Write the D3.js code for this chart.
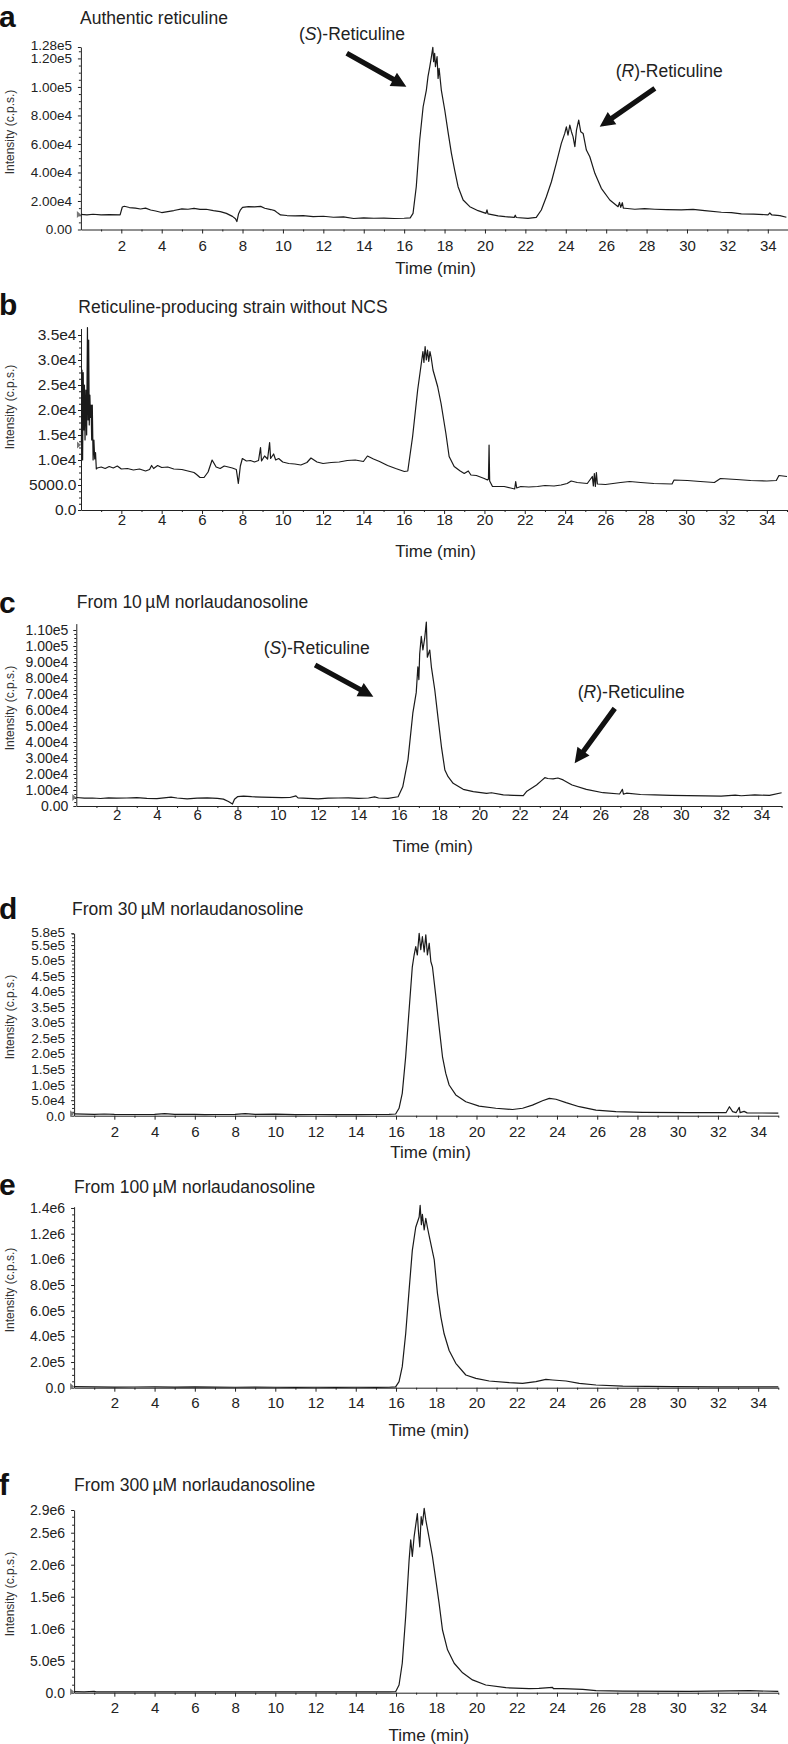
<!DOCTYPE html>
<html>
<head>
<meta charset="utf-8">
<script src="https://cdnjs.cloudflare.com/ajax/libs/d3/7.8.5/d3.min.js"></script>
<style>
  body { margin: 0; background: #fff; }
  svg { display: block; font-family: "Liberation Sans", Arial, Helvetica, sans-serif; }
</style>
</head>
<body>
<svg width="788" height="1744"></svg>
<script>
// ---- data: [time (min), intensity (c.p.s.)] ----
const traceA = [[0.0,10600],[0.3,10300],[0.6,10700],[1.0,10200],[1.4,10500],[1.94,10200],[2.05,15800],[2.15,16300],[2.4,15400],[2.7,15000],[2.95,14400],[3.2,15000],[3.45,13700],[3.7,13000],[4.0,11900],[4.3,12600],[4.6,13300],[5.0,14500],[5.3,14200],[5.6,14800],[5.9,14100],[6.2,14200],[6.56,13200],[6.9,12500],[7.2,11300],[7.5,9200],[7.65,7600],[7.72,5600],[7.8,10800],[7.9,13800],[8.0,15500],[8.3,16100],[8.6,15900],[8.9,16200],[9.1,14900],[9.4,14000],[9.6,13200],[9.75,11500],[9.88,10200],[10.2,9800],[10.6,9500],[11.0,9700],[11.5,9000],[12.0,9300],[12.5,8600],[13.0,8900],[13.5,7700],[14.0,8200],[14.5,7900],[15.0,8000],[15.5,7700],[16.0,7900],[16.3,8200],[16.44,11300],[16.6,30000],[16.77,62800],[16.94,86100],[17.1,97800],[17.18,107200],[17.27,114200],[17.35,121200],[17.42,127800],[17.46,117700],[17.51,123600],[17.55,114200],[17.63,121200],[17.68,106000],[17.73,113000],[17.84,97800],[18.01,83800],[18.17,68600],[18.34,53400],[18.5,41700],[18.67,30000],[18.92,20700],[19.25,16000],[19.66,13200],[20.05,11300],[20.1,13800],[20.15,11000],[20.65,9500],[21.0,9000],[21.45,8500],[21.5,10000],[21.55,8400],[22.13,7800],[22.54,8500],[22.79,13700],[23.04,23000],[23.29,33500],[23.53,46400],[23.78,60400],[23.95,67400],[24.03,72000],[24.11,66200],[24.2,73200],[24.28,68600],[24.36,65100],[24.45,58100],[24.53,69700],[24.64,76700],[24.74,68600],[24.86,67400],[25.02,55700],[25.19,51000],[25.44,39400],[25.76,28900],[26.18,20700],[26.59,16000],[26.66,19000],[26.72,15500],[26.8,18800],[26.85,15000],[26.92,14900],[27.42,14200],[27.9,14600],[28.41,14200],[29.0,13900],[29.72,13700],[30.3,14100],[30.88,13200],[31.7,12100],[32.2,11800],[32.69,11000],[33.3,10800],[34.01,10300],[34.1,11600],[34.2,10200],[34.6,9700],[34.92,8600]];

const traceB = [[0.02,13000],[0.05,28000],[0.08,10000],[0.11,27500],[0.14,16000],[0.17,25000],[0.2,14000],[0.24,24000],[0.28,15000],[0.32,36500],[0.35,18000],[0.38,34000],[0.41,17000],[0.44,23000],[0.47,18500],[0.5,21000],[0.53,14000],[0.56,21000],[0.6,10000],[0.64,14000],[0.68,10200],[0.72,11500],[0.76,8200],[0.8,8400],[1.0,8600],[1.2,8300],[1.4,8700],[1.6,8400],[1.8,8800],[2.0,8200],[2.3,8300],[2.6,8000],[2.9,8200],[3.2,7800],[3.4,8100],[3.5,8900],[3.6,8300],[3.8,8900],[4.0,8500],[4.3,8600],[4.6,8200],[5.0,8100],[5.3,7800],[5.6,7500],[5.7,7200],[5.9,6500],[6.1,6500],[6.3,7600],[6.5,10000],[6.7,8600],[6.9,8300],[7.1,8800],[7.3,8600],[7.5,8400],[7.7,8100],[7.8,5300],[7.9,8800],[8.0,10300],[8.2,9800],[8.4,9900],[8.6,9600],[8.8,9900],[8.9,12500],[8.95,9800],[9.1,10800],[9.25,10200],[9.35,13500],[9.4,10300],[9.55,11200],[9.65,10000],[9.8,10300],[10.0,9600],[10.3,9300],[10.6,9200],[10.9,9000],[11.2,9500],[11.4,10400],[11.7,9600],[12.0,9300],[12.4,9500],[12.8,9600],[13.2,9900],[13.6,10000],[14.0,9700],[14.2,10800],[14.5,10200],[14.8,9700],[15.0,9300],[15.2,8900],[15.6,8300],[16.03,7700],[16.2,7800],[16.44,14700],[16.69,24000],[16.85,28700],[16.95,31700],[17.0,29500],[17.06,32700],[17.12,30000],[17.18,32000],[17.24,29700],[17.3,31700],[17.36,30500],[17.45,28000],[17.68,24700],[17.85,21300],[18.09,15300],[18.25,10700],[18.5,8700],[18.8,7800],[19.0,7300],[19.2,7800],[19.33,7000],[19.6,6900],[19.99,6300],[20.15,6000],[20.2,6200],[20.23,13000],[20.26,5800],[20.4,4700],[20.98,4700],[21.3,4400],[21.5,4200],[21.55,5700],[21.6,4400],[21.8,4700],[22.2,4600],[22.63,4700],[23.0,4900],[23.45,4800],[23.8,5000],[24.1,5300],[24.3,5800],[24.6,5500],[25.1,5300],[25.35,6700],[25.4,4800],[25.45,7300],[25.5,4700],[25.55,7500],[25.6,5200],[26.0,5100],[26.75,5500],[27.2,5700],[27.75,5500],[28.4,5300],[29.3,5200],[29.4,6000],[30.06,5900],[30.7,5700],[31.4,5500],[31.7,6300],[32.5,6100],[33.2,5900],[34.0,5800],[34.47,5900],[34.6,6900],[35.0,6700]];

const traceC = [[0.0,5300],[0.4,4900],[0.8,5000],[1.2,4700],[1.6,5100],[2.0,4900],[2.5,5000],[3.0,5200],[3.5,4800],[4.0,4600],[4.7,5600],[5.0,5000],[5.5,4500],[6.0,4900],[6.5,5100],[7.0,4800],[7.3,4300],[7.55,2800],[7.75,1200],[7.85,4200],[8.0,5800],[8.3,6200],[8.7,5800],[9.2,5600],[9.7,5400],[10.2,5200],[10.6,5300],[10.9,6300],[11.0,5100],[11.5,4800],[12.0,4500],[12.5,4900],[13.0,5000],[13.5,5100],[14.0,4800],[14.5,5000],[14.8,5700],[15.0,5000],[15.47,4800],[15.97,5800],[16.2,12000],[16.46,29000],[16.7,58000],[16.87,71000],[16.95,87000],[17.0,79000],[17.04,95000],[17.12,106000],[17.2,97500],[17.29,105000],[17.37,115000],[17.42,93000],[17.54,97500],[17.62,87000],[17.79,72500],[17.96,54000],[18.12,37000],[18.29,22500],[18.45,18300],[18.7,14200],[19.2,10400],[19.7,9000],[20.36,7900],[20.6,8300],[21.19,6900],[21.7,6700],[22.18,6500],[22.34,9000],[22.84,13100],[23.1,16000],[23.25,17700],[23.4,17200],[23.66,16900],[23.9,17500],[24.16,16300],[24.6,13100],[25.31,10400],[26.14,8300],[26.96,7500],[27.1,10400],[27.15,7400],[27.3,8000],[28.0,7200],[28.7,6900],[29.5,6700],[30.35,6500],[31.2,6300],[32.0,6200],[32.7,6800],[33.0,6400],[33.67,6900],[34.4,6600],[35.0,8300]];

const traceD = [[0.0,6000],[0.5,5000],[1.0,4000],[1.5,5500],[2.0,4000],[3.0,3800],[4.0,4200],[4.5,6500],[5.0,4000],[6.0,4500],[6.5,3500],[7.0,3800],[8.0,4300],[8.5,6800],[9.0,4000],[10.0,4800],[11.0,3600],[12.0,3800],[13.0,3500],[14.0,3300],[15.0,3800],[15.65,4000],[15.98,5500],[16.15,24000],[16.31,72000],[16.48,190000],[16.65,341000],[16.81,480000],[16.9,518000],[16.98,545000],[17.06,518000],[17.15,588000],[17.23,535000],[17.31,577000],[17.4,528000],[17.48,583000],[17.56,518000],[17.65,556000],[17.73,497000],[17.81,480000],[17.98,384000],[18.14,287000],[18.31,190000],[18.47,137000],[18.64,99000],[18.97,67000],[19.47,45000],[20.13,31000],[20.96,24000],[21.79,20000],[22.29,24000],[22.78,34000],[23.28,48000],[23.62,56000],[23.95,53000],[24.45,42000],[25.11,29000],[25.94,18000],[26.93,13000],[28.26,11000],[30.58,9700],[32.4,9700],[32.57,29000],[32.73,13000],[32.9,9700],[33.06,27000],[33.1,9700],[33.3,14000],[33.45,9000],[35.0,8500]];

const traceE = [[0.0,9000],[1.0,6000],[2.0,4500],[3.0,5500],[4.0,7000],[5.0,4500],[6.0,6000],[7.0,4000],[8.0,3500],[9.0,5000],[10.0,3500],[11.0,3000],[12.0,3500],[13.0,3000],[14.0,3500],[15.0,3000],[15.65,3500],[15.98,6000],[16.15,47000],[16.31,164000],[16.48,420000],[16.65,760000],[16.81,1070000],[16.98,1250000],[17.15,1330000],[17.2,1420000],[17.26,1270000],[17.31,1350000],[17.4,1230000],[17.48,1320000],[17.56,1250000],[17.65,1180000],[17.9,995000],[18.06,735000],[18.23,550000],[18.39,420000],[18.64,290000],[18.97,190000],[19.47,99000],[19.97,73000],[20.63,52000],[21.63,39000],[22.29,34000],[22.95,47000],[23.45,65000],[23.78,60000],[24.45,52000],[25.11,34000],[25.94,21000],[27.27,13000],[29.75,7800],[32.0,6500],[35.0,6000]];

const traceF = [[0.0,16000],[0.5,14000],[1.0,20000],[1.1,14000],[2.0,13000],[4.0,14000],[6.0,13000],[8.0,14000],[10.0,13000],[12.0,14000],[14.0,13000],[15.65,14000],[15.98,16000],[16.15,120000],[16.31,460000],[16.48,1190000],[16.65,2070000],[16.73,2390000],[16.81,2130000],[16.9,2440000],[17.06,2800000],[17.11,2540000],[17.18,2280000],[17.25,2750000],[17.31,2620000],[17.4,2880000],[17.48,2700000],[17.65,2410000],[17.81,2130000],[17.98,1760000],[18.14,1400000],[18.31,980000],[18.56,670000],[18.89,460000],[19.31,310000],[19.8,200000],[20.46,120000],[21.46,78000],[22.62,63000],[23.1,68000],[23.78,83000],[23.82,63000],[24.28,63000],[25.28,52000],[25.94,31000],[27.27,26000],[30.58,21000],[33.57,31000],[35.0,21000]];

// ---- axis ticks ----
const xTicks = [2,4,6,8,10,12,14,16,18,20,22,24,26,28,30,32,34];
const xMinorTicks = [1,3,5,7,9,11,13,15,17,19,21,23,25,27,29,31,33,35];

const yTicksA = [0,2e4,4e4,6e4,8e4,1e5,1.2e5,1.28e5];
const yLabelsA = ["0.00","2.00e4","4.00e4","6.00e4","8.00e4","1.00e5","1.20e5","1.28e5"];
const yTicksB = [0,5000,1e4,1.5e4,2e4,2.5e4,3e4,3.5e4];
const yLabelsB = ["0.0","5000.0","1.0e4","1.5e4","2.0e4","2.5e4","3.0e4","3.5e4"];
const yTicksC = [0,1e4,2e4,3e4,4e4,5e4,6e4,7e4,8e4,9e4,1e5,1.1e5];
const yLabelsC = ["0.00","1.00e4","2.00e4","3.00e4","4.00e4","5.00e4","6.00e4","7.00e4","8.00e4","9.00e4","1.00e5","1.10e5"];
const yTicksD = [0,5e4,1e5,1.5e5,2e5,2.5e5,3e5,3.5e5,4e5,4.5e5,5e5,5.5e5,5.88e5];
const yLabelsD = ["0.0","5.0e4","1.0e5","1.5e5","2.0e5","2.5e5","3.0e5","3.5e5","4.0e5","4.5e5","5.0e5","5.5e5","5.8e5"];
const yTicksE = [0,2e5,4e5,6e5,8e5,1e6,1.2e6,1.4e6];
const yLabelsE = ["0.0","2.0e5","4.0e5","6.0e5","8.0e5","1.0e6","1.2e6","1.4e6"];
const yTicksF = [0,5e5,1e6,1.5e6,2e6,2.5e6,2.855e6];
const yLabelsF = ["0.0","5.0e5","1.0e6","1.5e6","2.0e6","2.5e6","2.9e6"];

// ---- annotations (data coordinates) ----
const arrowsA = [[[13.16,123600],[16.11,100150]], [[28.41,99030],[25.68,72100]]];
const notesA = [["S",13.42,133000], ["R",29.12,106900]];
const arrowsC = [[[11.85,88100],[14.74,68300]], [[26.72,61000],[24.73,26700]]];
const notesC = [["S",11.93,95000], ["R",27.54,67200]];

const titles = ["Authentic reticuline",
  "Reticuline-producing strain without NCS",
  "From 10\u2009\u00b5M norlaudanosoline",
  "From 30\u2009\u00b5M norlaudanosoline",
  "From 100\u2009\u00b5M norlaudanosoline",
  "From 300\u2009\u00b5M norlaudanosoline"];

// ---- panel placement (pixels) ----
const panels = [
  {letter:"a", trace:traceA, yt:yTicksA, yl:yLabelsA, ymax:1.28e5, x0:80.9, x1:788, y0:229.5, y1:47,
   letterY:27, titleX:80, titleY:24, tickDy:21, timeX:435.5, timeY:274, yLabY:132, yTickRight:72, yFont:13.5, topShift:2,
   arrows:arrowsA, notes:notesA},
  {letter:"b", trace:traceB, yt:yTicksB, yl:yLabelsB, ymax:3.63e4, x0:81, x1:787, y0:510, y1:328.5,
   letterY:315, titleX:78.3, titleY:312.7, tickDy:14.5, timeX:435.5, timeY:557, yLabY:407, yTickRight:76.5, yFont:15.5, topShift:0},
  {letter:"c", trace:traceC, yt:yTicksC, yl:yLabelsC, ymax:1.14e5, x0:76.3, x1:781.6, y0:806, y1:623.6,
   letterY:613, titleX:76.7, titleY:608.3, tickDy:13.5, timeX:432.7, timeY:852, yLabY:708, yTickRight:68.3, yFont:14, topShift:0,
   arrows:arrowsC, notes:notesC},
  {letter:"d", trace:traceD, yt:yTicksD, yl:yLabelsD, ymax:5.88e5, x0:74.1, x1:778.3, y0:1115.7, y1:933.3,
   letterY:919, titleX:72, titleY:915, tickDy:21, timeX:430.5, timeY:1158, yLabY:1017, yTickRight:65, yFont:13.5, topShift:1.5},
  {letter:"e", trace:traceE, yt:yTicksE, yl:yLabelsE, ymax:1.41e6, x0:74.1, x1:778.3, y0:1387.7, y1:1206.7,
   letterY:1195, titleX:74, titleY:1193.3, tickDy:20.6, timeX:428.8, timeY:1435.5, yLabY:1290, yTickRight:65, yFont:14, topShift:0},
  {letter:"f", trace:traceF, yt:yTicksF, yl:yLabelsF, ymax:2.855e6, x0:74.1, x1:778.3, y0:1692.7, y1:1510,
   letterY:1495, titleX:74, titleY:1490.7, tickDy:20.6, timeX:428.8, timeY:1740.5, yLabY:1594, yTickRight:65, yFont:14, topShift:0}
];

const svg = d3.select("svg");
const ink = "#1a1a1a";

panels.forEach(function(p, i) {
  const x = d3.scaleLinear().domain([0, 35]).range([p.x0, p.x1]);
  const y = d3.scaleLinear().domain([0, p.ymax]).range([p.y0, p.y1]);
  const g = svg.append("g");

  // panel letter + title
  g.append("text").attr("x", -1).attr("y", p.letterY)
    .style("font-size", "30px").style("font-weight", "bold").attr("fill", "#111").text(p.letter);
  g.append("text").attr("x", p.titleX).attr("y", p.titleY)
    .style("font-size", "17.5px").attr("fill", "#222").text(titles[i]);

  // x axis
  const xAxis = g.append("g").attr("transform", "translate(0," + p.y0 + ")")
    .call(d3.axisBottom(x).tickValues(xTicks).tickSize(4).tickSizeOuter(0));
  xAxis.selectAll("text").attr("y", p.tickDy).attr("dy", 0)
    .style("font-size", "15px").attr("fill", "#222");
  g.append("g").attr("transform", "translate(0," + p.y0 + ")")
    .call(d3.axisBottom(x).tickValues(xMinorTicks).tickSize(2).tickFormat(""))
    .select(".domain").remove();

  // y axis
  const yAxis = g.append("g").attr("transform", "translate(" + p.x0 + ",0)")
    .call(d3.axisLeft(y).tickValues(p.yt).tickSize(3).tickSizeOuter(0)
      .tickPadding(p.x0 - p.yTickRight - 3)
      .tickFormat(function(d, k) { return p.yl[k]; }));
  yAxis.selectAll("text").style("font-size", p.yFont + "px").attr("fill", "#222");
  // nudge the top (axis-max) label so it does not sit on its neighbour
  yAxis.selectAll(".tick").filter(function(d, k) { return k === p.yt.length - 1; })
    .select("text").attr("y", -p.topShift);
  const minor = [];
  for (let k = 0; k < p.yt.length - 1; k++) {
    const step = (p.yt[1] - p.yt[0]) / 4;
    for (let m = 1; m < 4; m++) {
      const v = p.yt[k] + m * step;
      if (v < p.ymax) minor.push(v);
    }
  }
  g.append("g").attr("transform", "translate(" + p.x0 + ",0)")
    .call(d3.axisLeft(y).tickValues(minor).tickSize(2).tickFormat(""))
    .select(".domain").remove();
  g.selectAll(".domain, .tick line").attr("stroke", "#222");

  // axis titles
  g.append("text").attr("x", p.timeX).attr("y", p.timeY).attr("text-anchor", "middle")
    .style("font-size", "17px").attr("fill", "#222").text("Time (min)");
  g.append("text").attr("transform", "translate(13.5," + p.yLabY + ") rotate(-90)")
    .attr("text-anchor", "middle").style("font-size", "12px").attr("fill", "#333")
    .text("Intensity (c.p.s.)");

  // small start marker on the y axis
  g.append("path").attr("d", "M-4,-3.5L0,0L-4,3.5Z")
    .attr("transform", "translate(" + x(0) + "," + y(p.trace[0][1]) + ")")
    .attr("fill", "#777");

  // chromatogram trace
  g.append("path").datum(p.trace)
    .attr("fill", "none").attr("stroke", ink).attr("stroke-width", 1.2)
    .attr("stroke-linejoin", "round")
    .attr("d", d3.line().x(function(d) { return x(d[0]); }).y(function(d) { return y(d[1]); }));

  // arrows and peak names
  (p.arrows || []).forEach(function(a) {
    const tx = x(a[0][0]), ty = y(a[0][1]), hx = x(a[1][0]), hy = y(a[1][1]);
    const ang = Math.atan2(hy - ty, hx - tx);
    const len = Math.hypot(hx - tx, hy - ty);
    const head = 15, hw = 7.5, sw = 2.6;
    const pts = [[0, -sw], [len - head, -sw], [len - head, -hw], [len, 0], [len - head, hw], [len - head, sw], [0, sw]];
    g.append("path")
      .attr("d", "M" + pts.map(function(q) { return q.join(","); }).join("L") + "Z")
      .attr("transform", "translate(" + tx + "," + ty + ") rotate(" + (ang * 180 / Math.PI) + ")")
      .attr("fill", "#111");
  });
  (p.notes || []).forEach(function(n) {
    const t = g.append("text").attr("x", x(n[1])).attr("y", y(n[2])).attr("text-anchor", "middle")
      .style("font-size", "17.5px").attr("fill", "#222");
    t.append("tspan").text("(");
    t.append("tspan").style("font-style", "italic").text(n[0]);
    t.append("tspan").text(")-Reticuline");
  });
});
</script>
</body>
</html>
